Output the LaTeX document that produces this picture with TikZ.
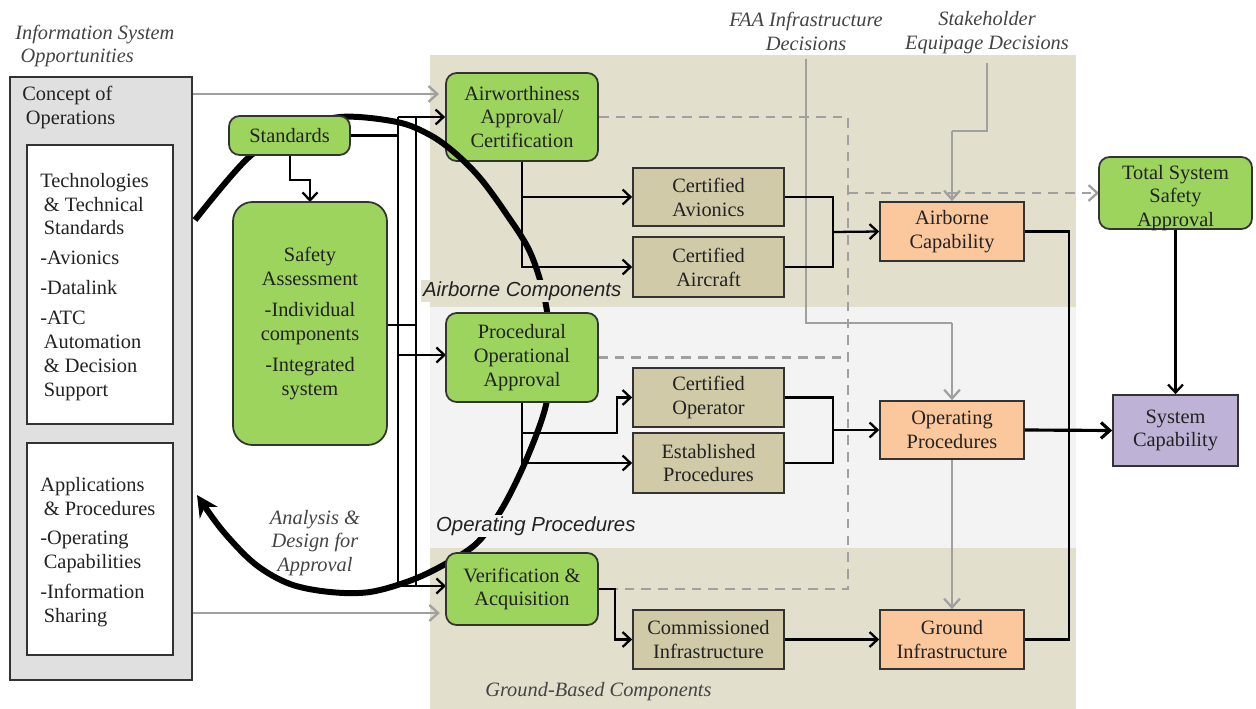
\documentclass[tikz,border=0pt]{standalone}
\usepackage{fontspec}
\setmainfont{Liberation Serif}
\newfontfamily\labelsans{Liberation Sans}
\usetikzlibrary{arrows.meta}

\definecolor{bandtan}{HTML}{E2DFCC}
\definecolor{bandgrey}{HTML}{F3F3F3}
\definecolor{leaf}{HTML}{9DD45E}
\definecolor{khaki}{HTML}{D1CAA8}
\definecolor{peach}{HTML}{FBC89E}
\definecolor{lilac}{HTML}{BEB3D6}
\definecolor{panel}{HTML}{E0E0E0}
\definecolor{wire}{HTML}{A0A0A0}
\definecolor{ink}{HTML}{222222}
\definecolor{edge}{HTML}{333333}

\tikzset{
  txt/.style={font=\fontsize{11.6}{13.6}\selectfont, text=ink, inner sep=0pt},
  ital/.style={txt, font=\fontsize{11.6}{13.6}\selectfont\itshape, text=ink!85},
  sansital/.style={txt, font=\fontsize{11.6}{13.6}\selectfont\labelsans\itshape, text=ink},
  basebox/.style={txt, draw=edge, line width=1pt, align=center},
  greenbox/.style={basebox, fill=leaf, rounded corners=6pt},
  khakibox/.style={basebox, fill=khaki, minimum width=3.02cm},
  peachbox/.style={basebox, fill=peach, minimum width=2.88cm},
  conn/.style={draw=black, line width=1.3pt},
  arr/.style={conn, -{Straight Barb[length=4.5pt,width=8.5pt]}},
  greyline/.style={draw=wire, line width=1.3pt},
  greyarr/.style={greyline, -{Straight Barb[length=5pt,width=9pt]}},
  dashgrey/.style={draw=wire, line width=1.3pt, dash pattern=on 5.5pt off 4pt},
  loopcurve/.style={draw=black, line width=3.4pt, -{Stealth[length=12pt,width=12pt]}},
}

\begin{document}
\begin{tikzpicture}[x=0.02cm, y=-0.02cm]
\useasboundingbox (0,0) rectangle (1256,709);

% background bands
\fill[bandtan]  (430,55)  rectangle (1076,307);
\fill[bandgrey] (430,307) rectangle (1076,548);
\fill[bandtan]  (430,548) rectangle (1076,709);

% concept of operations panel
\node[draw=edge, line width=1.2pt, fill=panel, minimum width=3.64cm, minimum height=12.06cm, inner sep=0pt] (conops) at (101,378.5) {};
\node[txt, anchor=north west, align=left] (conopslbl) at (22,86) {Concept of\\\hspace*{2pt}Operations};
\node[draw=edge, line width=1.2pt, fill=white, minimum width=2.92cm, minimum height=5.58cm, inner sep=0pt] (techbox) at (100,284.5) {};
\node[txt, anchor=west, align=left] (techtxt) at (40,287) {Technologies\\\hspace*{2pt}\& Technical\\\hspace*{2pt}Standards\\[3.4pt]-Avionics\\[3.4pt]-Datalink\\[3.6pt]-ATC\\\hspace*{2pt}Automation\\\hspace*{2pt}\& Decision\\\hspace*{2pt}Support};
\node[draw=edge, line width=1.2pt, fill=white, minimum width=2.92cm, minimum height=4.24cm, inner sep=0pt] (appbox) at (100,549) {};
\node[txt, anchor=west, align=left] (apptxt) at (40,552) {Applications\\\hspace*{2pt}\& Procedures\\[3.4pt]-Operating\\\hspace*{2pt}Capabilities\\[3.4pt]-Information\\\hspace*{2pt}Sharing};

% free-standing labels
\node[ital, anchor=west, align=left] (isolbl) at (15,46) {Information System\\\hspace*{3pt}Opportunities};
\node[ital, align=center] (faalbl) at (806,31) {FAA Infrastructure\\Decisions};
\node[ital, align=center] (stklbl) at (987,33) {Stakeholder\\Equipage Decisions};
\node[ital, align=center] (adlbl) at (315,543) {Analysis \&\\Design for\\Approval};
\node[ital, anchor=west] (gblbl) at (485,692) {Ground-Based Components};

% nodes whose positions the wiring needs
\node[greenbox, minimum width=3.04cm, minimum height=1.76cm] (air) at (522,117) {Airworthiness\\Approval/\\Certification};
\path (289.5,135.5) coordinate (stdc) (310,323.5) coordinate (safc);

% grey inputs from the concept of operations
\draw[greyarr, shorten >=3.5pt] (conops.east |- 0,94) -- (air.west |- 0,94);
\draw[greyarr, shorten >=3.5pt] (conops.east |- 0,613) -- (446,613);

% dashed approval feedback
\draw[dashgrey] (air.east) -- (848,117) -- (848,589) -- (598,589);
\draw[dashgrey] (598,357.5) -- (848,357.5);
\draw[dashgrey, -{Straight Barb[length=5pt,width=9pt]}] (848,193) -- (1099,193);

% decision inputs
\draw[greyline] (faalbl.south) ++(0,8) -- (806,323) -- (952,323) coordinate (faaknee);
\draw[greyline] (stklbl.south) ++(0,8) -- (987,131) -- (952,131) coordinate (stkknee);

% distribution buses from Standards and Safety Assessment
\draw[conn] (350,135.5) -- (398,135.5);
\draw[conn] (387,325) -- (416,325);
\draw[conn] (398,117) -- (398,586);
\draw[conn] (416,117) -- (416,586);
\draw[arr] (398,117) -- (air.west);
\draw[arr] (398,355) -- (446,355);
\draw[arr] (398,586) -- (446,586);
\draw[arr] (290,155) -- (290,180) -- (310,180) -- (310,202);

% big analysis and design loop
\draw[loopcurve] plot[smooth, tension=0.55] coordinates {
  (195,220) (248,158) (292,132) (340,117) (397,122) (430,135) (455,153)
  (480,178) (505,212) (530,252) (545,300) (551,355) (546,405) (527,458)
  (503,507) (478,542) (447,563) (412,580) (370,592) (330,592) (290,584)
  (255,564) (222,530) (197,495)};

% remaining nodes
\node[greenbox, minimum width=2.42cm, minimum height=0.78cm] (std) at (stdc) {Standards};
\node[greenbox, rounded corners=11pt, minimum width=3.08cm, minimum height=4.86cm] (safety) at (safc) {Safety\\Assessment\\[4pt]-Individual\\components\\[4pt]-Integrated\\system};
\node[greenbox, minimum width=3.04cm, minimum height=1.78cm] (proc) at (522,357.5) {Procedural\\Operational\\Approval};
\node[greenbox, minimum width=3.04cm, minimum height=1.44cm] (ver) at (522,589) {Verification \&\\Acquisition};

\node[khakibox, minimum height=1.16cm] (cav) at (708.5,197) {Certified\\Avionics};
\node[khakibox, minimum height=1.20cm] (cac) at (708.5,267) {Certified\\Aircraft};
\node[khakibox, minimum height=1.18cm] (cop) at (708.5,397.5) {Certified\\Operator};
\node[khakibox, minimum height=1.20cm] (est) at (708.5,463) {Established\\Procedures};
\node[khakibox, minimum height=1.18cm] (com) at (708.5,639.5) {Commissioned\\Infrastructure};

\node[peachbox, minimum height=1.18cm] (abc) at (952,231.5) {Airborne\\Capability};
\node[peachbox, minimum height=1.16cm] (opp) at (952,430) {Operating\\Procedures};
\node[peachbox, minimum height=1.18cm] (gri) at (952,639.5) {Ground\\Infrastructure};

\node[greenbox, minimum width=3.06cm, minimum height=1.44cm] (tssa) at (1175.5,193) {};
\node[txt, align=center] (tssatxt) at (1175.5,198) {Total System\\Safety\\Approval};
\node[basebox, fill=lilac, minimum width=2.5cm, minimum height=1.42cm] (sc) at (1175.5,430.5) {System\\Capability};

% band labels, masking the loop behind them
\node[sansital, fill=bandtan, anchor=west, inner sep=1pt] (ablbl) at (421,291) {Airborne Components};
\node[sansital, fill=bandgrey, anchor=west, inner sep=1pt] (oplbl) at (434,526) {Operating Procedures};

% airborne chain
\draw[arr] (air.south) |- (cav.west);
\draw[arr] (air.south) |- (cac.west);
\draw[conn] (cav.east) -| (833,267) -- (cac.east);
\draw[arr] (833,232) -- (abc.west);

% procedures chain
\draw[arr] (proc.south) |- (est.west);
\draw[arr] (proc.south |- 0,433) -- (617,433) |- (cop.west);
\draw[conn] (cop.east) -| (833,463) -- (est.east);
\draw[arr] (833,430) -- (opp.west);

% ground chain
\draw[arr] (ver.east) -- (615,589) |- (com.west);
\draw[arr] (com.east) -- (gri.west);

% decision arrows
\draw[greyarr] (faaknee) -- (opp.north);
\draw[greyarr] (stkknee) -- (abc.north);
\draw[greyarr] (opp.south) -- (gri.north);

% capability roll-up
\draw[conn] (abc.east) -| (1069,639.5) -- (gri.east);
\draw[conn, line width=1.8pt, -{Straight Barb[length=5pt,width=9pt]}] (opp.east) -- (sc.west);
\draw[arr] (tssa.south) -- (sc.north);
\end{tikzpicture}
\end{document}
